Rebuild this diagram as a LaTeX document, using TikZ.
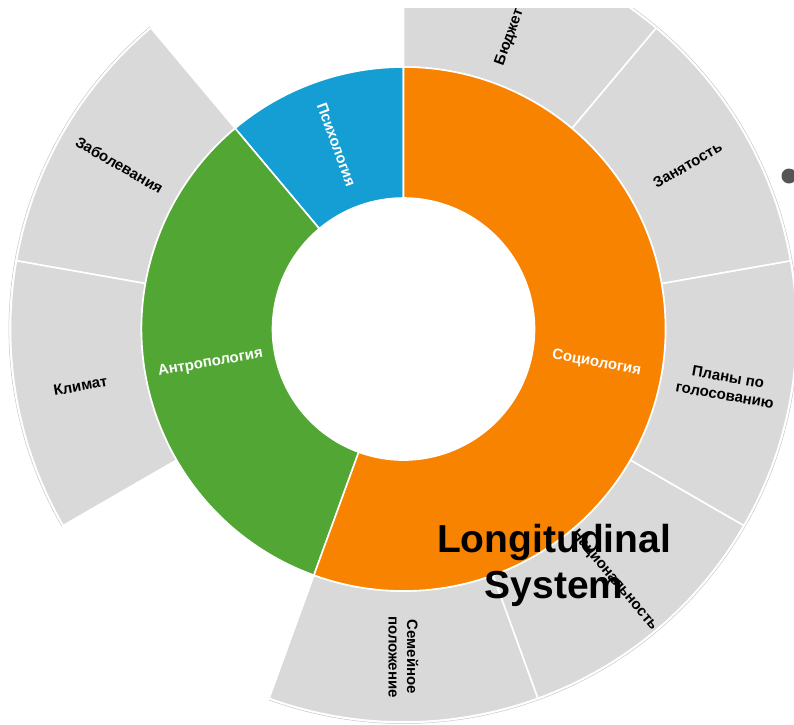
\documentclass[tikz,border=0pt]{standalone}
\usepackage{fontspec}
\setmainfont{Liberation Sans}
\usetikzlibrary{calc}
\definecolor{segorange}{RGB}{247,131,0}
\definecolor{seggreen}{RGB}{82,166,51}
\definecolor{segblue}{RGB}{20,158,212}
\definecolor{seggray}{RGB}{217,217,217}
\definecolor{dotgray}{RGB}{85,85,85}
\begin{document}
\begin{tikzpicture}[x=1pt,y=1pt,
  ring/.style={draw=white,line width=1.6pt,line join=round},
  rim/.style={draw=black!22,line width=0.5pt},
  inlabel/.style={font=\bfseries\fontsize{15}{18}\selectfont,text=white,inner sep=0pt},
  outlabel/.style={font=\bfseries\fontsize{15}{18.5}\selectfont,text=black,inner sep=0pt,align=center},
  bigtitle/.style={font=\bfseries\fontsize{39}{46}\selectfont,text=black,inner sep=0pt,anchor=base},
]
\useasboundingbox (0,0) rectangle (794,-724);
\coordinate (C) at (403.5,-329);
\begin{scope}
\clip (0,-8) rectangle (794,-724);
% outer ring (gray)
\foreach \a/\b in {130/170,170/210,250/290,290/330,330/370,370/410,410/450}{
  \draw[rim] ($(C)+(\a:394.6)$) arc[start angle=\a,end angle=\b,radius=394.6];
  \filldraw[ring,fill=seggray] ($(C)+(\a:262)$) arc[start angle=\a,end angle=\b,radius=262]
     -- ($(C)+(\b:393)$) arc[start angle=\b,end angle=\a,radius=393] -- cycle;
}
% middle ring
\foreach \a/\b/\c in {90/130/segblue,130/250/seggreen,250/450/segorange}{
  \filldraw[ring,fill=\c] ($(C)+(\a:131)$) arc[start angle=\a,end angle=\b,radius=131]
     -- ($(C)+(\b:262)$) arc[start angle=\b,end angle=\a,radius=262] -- cycle;
}
% inner labels
\node[inlabel,rotate=-70] (psy) at ($(C)+(110:196)$) {Психология};
\node[inlabel,rotate=10] (anth) at ($(C)+(190:196)$) {Антропология};
\node[inlabel,rotate=-10] (soc) at ($(C)+(350:196)$) {Социология};
% outer labels
\node[outlabel,rotate=-30] (zab) at ($(C)+(150:328)$) {Заболевания};
\node[outlabel,rotate=10] (klim) at ($(C)+(190:328)$) {Климат};
\node[outlabel,rotate=-90] (sem) at ($(C)+(270:328)$) {Семейное\\положение};
\node[outlabel,rotate=-50] (nat) at ($(C)+(310:328)$) {Национальность};
\node[outlabel,rotate=-10] (plan) at ($(C)+(350:328)$) {Планы по\\голосованию};
\node[outlabel,rotate=30] (zan) at ($(C)+(30:328)$) {Занятость};
\node[outlabel,rotate=70,anchor=west] (bud) at ($(C)+(70:281)$) {Бюджет};
\end{scope}
% bullet
\node[circle,fill=dotgray,minimum size=15pt,inner sep=0pt] (dot) at (789,-176) {};
% title
\node[bigtitle] (lt1) at (554,-552) {Longitudinal};
\node[bigtitle] (lt2) at (554,-598) {System};
\end{tikzpicture}
\end{document}
